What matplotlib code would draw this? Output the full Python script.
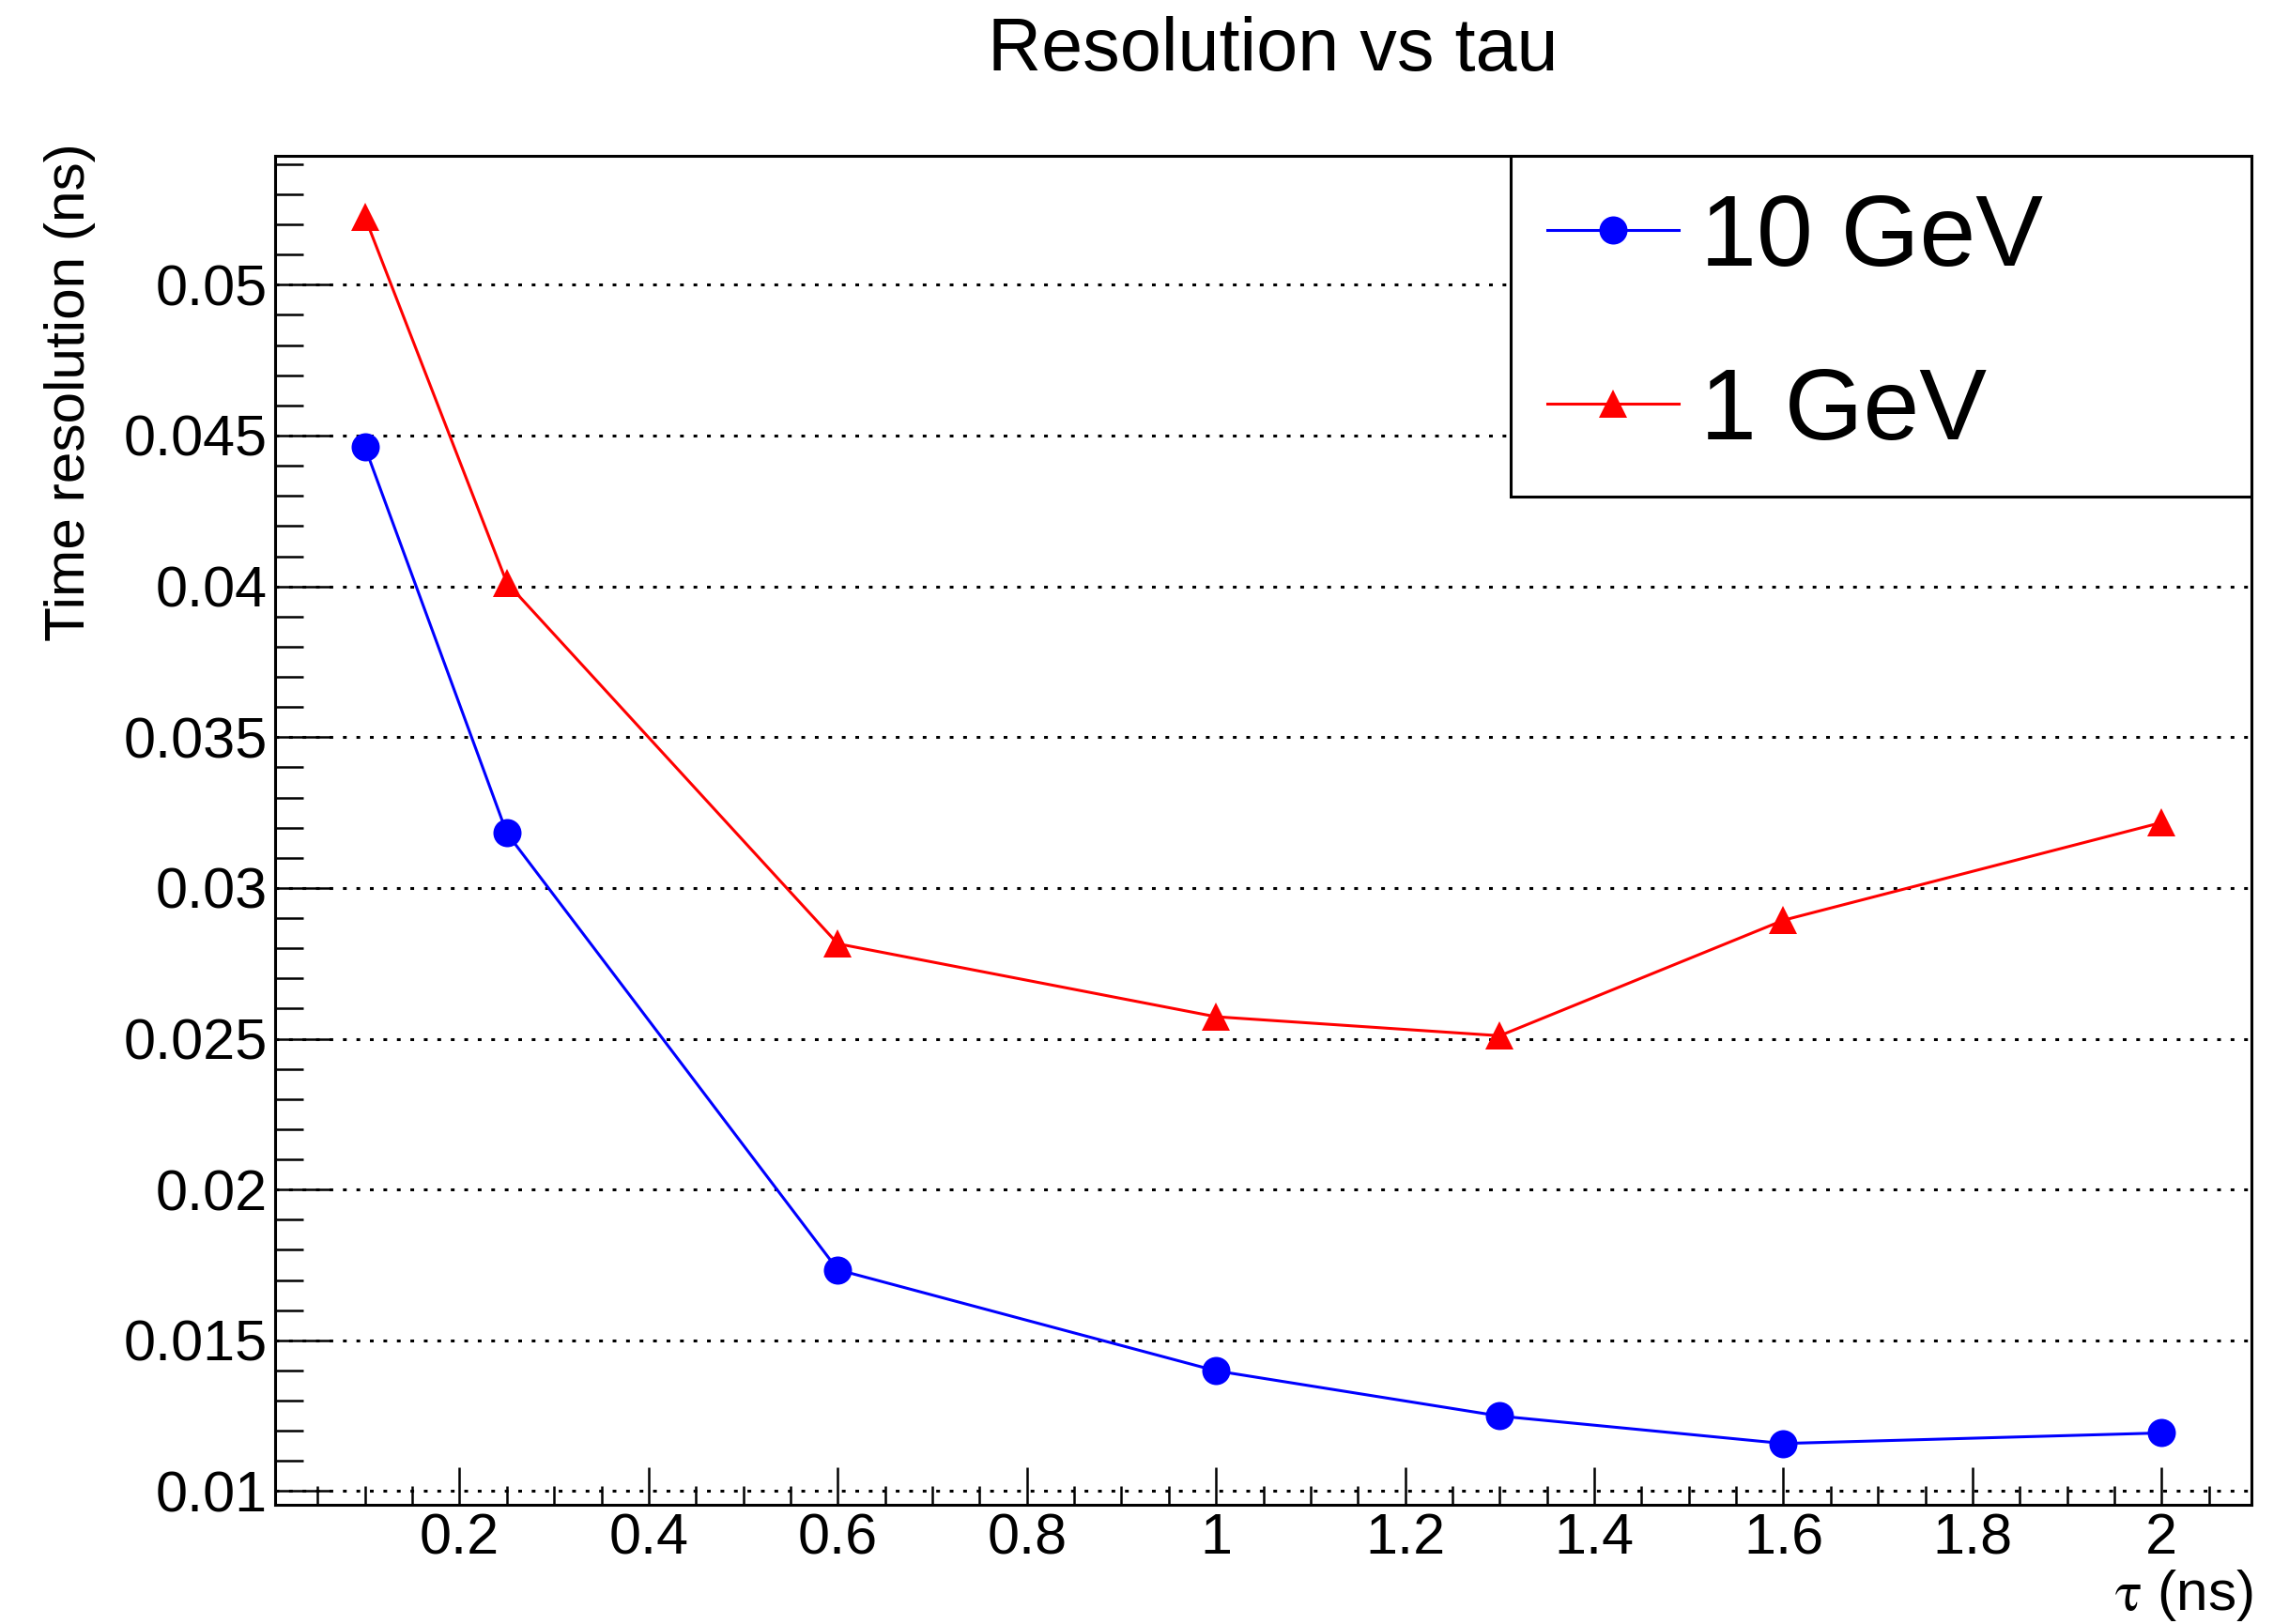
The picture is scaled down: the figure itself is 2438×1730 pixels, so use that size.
import matplotlib
matplotlib.use('Agg')
import matplotlib.pyplot as plt
from matplotlib.ticker import MultipleLocator, FuncFormatter

# decay constant tau (ns) and fitted time resolution (ns) for two energies
tau = [0.1, 0.25, 0.6, 1.0, 1.3, 1.6, 2.0]
res_10gev = [0.04462, 0.03182, 0.01734, 0.01399, 0.01249, 0.01158, 0.01193]
res_1gev = [0.05224, 0.04012, 0.02815, 0.02573, 0.02510, 0.02893, 0.03217]
series_labels = ['10 GeV', '1 GeV']

plt.rcParams['font.family'] = 'Liberation Sans'
plt.rcParams['mathtext.fontset'] = 'stix'

fig = plt.figure(figsize=(24.38, 17.3), dpi=100)
ax = fig.add_axes([0.1202, 0.0734, 0.8634, 0.8306])

ax.plot(tau, res_10gev, color='blue', lw=2.2, marker='o', ms=21.6, mew=0,
        label=series_labels[0])
ax.plot(tau, res_1gev, color='red', lw=2.2, marker='^', ms=21.6, mew=0,
        label=series_labels[1])
ax.margins(x=0.05, y=0.05)

# ROOT-like axes: inward ticks on left/bottom only, %g labels
ax.xaxis.set_major_locator(MultipleLocator(0.2))
ax.xaxis.set_minor_locator(MultipleLocator(0.05))
ax.yaxis.set_major_locator(MultipleLocator(0.005))
ax.yaxis.set_minor_locator(MultipleLocator(0.001))
fmt = FuncFormatter(lambda v, p: f'{v:g}')
ax.xaxis.set_major_formatter(fmt)
ax.yaxis.set_major_formatter(fmt)
ax.tick_params(which='both', direction='in', top=False, right=False,
               labelsize=44, width=1.8)
ax.tick_params(axis='x', which='major', length=29, pad=6)
ax.tick_params(axis='x', which='minor', length=14.5)
ax.tick_params(axis='y', which='major', length=43, pad=6)
ax.tick_params(axis='y', which='minor', length=21.5)
for s in ax.spines.values():
    s.set_linewidth(2.2)

ax.grid(axis='y', which='major', color='black', linestyle=(0, (1.3, 3.4)),
        linewidth=2.2)

leg = ax.legend(loc='upper right', bbox_to_anchor=(0.6252, 0, 0.3748, 1),
                mode='expand', borderaxespad=0, fontsize=77.5, fancybox=False,
                edgecolor='black', framealpha=1, borderpad=0.36,
                labelspacing=0.79, handlelength=1.3, handletextpad=0.22,
                numpoints=1)
leg.get_frame().set_linewidth(2.2)

fig.text(0.5562, 0.9566, 'Resolution vs tau', ha='center', va='baseline',
         fontsize=57)
fig.text(0.0305, 0.912, 'Time resolution (ns)', rotation=90, ha='center',
         va='top', fontsize=43.5)
fig.text(0.9844, 0.0085, r'$\mathrm{\tau}$ (ns)', ha='right', va='baseline',
         fontsize=43.5)

fig.savefig('out.png', dpi=100)
